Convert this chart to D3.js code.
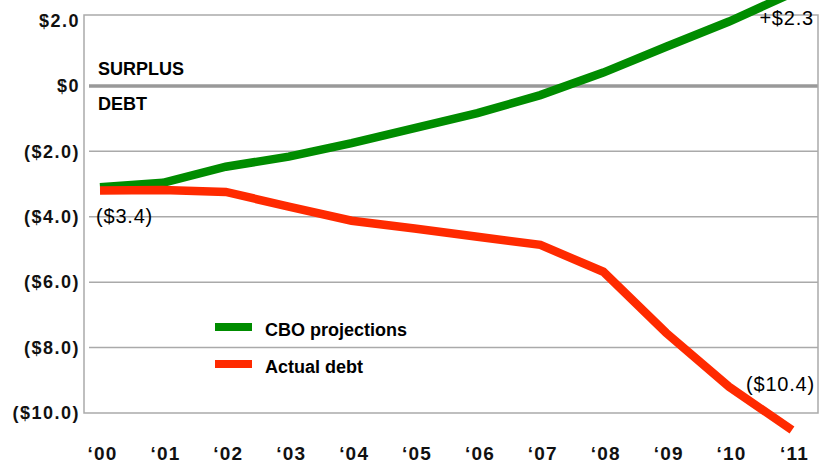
<!DOCTYPE html>
<html>
<head>
<meta charset="utf-8">
<script src="https://d3js.org/d3.v7.min.js"></script>
<style>
  body { margin: 0; background: #fff; }
  svg { font-family: "Liberation Sans", Arial, sans-serif; }
  .tick text { fill: #111; }
</style>
</head>
<body>
<script>

// Budget balance, trillions of dollars
var years = [2000, 2001, 2002, 2003, 2004, 2005, 2006, 2007, 2008, 2009, 2010, 2011];
var yearLabels = ["‘00", "‘01", "‘02", "‘03", "‘04", "‘05", "‘06", "‘07", "‘08", "‘09", "‘10", "‘11"];
var cboProjections = [-3.1, -2.96, -2.47, -2.16, -1.75, -1.29, -0.83, -0.28, 0.41, 1.2, 1.97, 2.84];
var actualDebt = [-3.2, -3.18, -3.24, -3.69, -4.12, -4.36, -4.61, -4.86, -5.68, -7.55, -9.2, -10.52];
var yTicks = [2, 0, -2, -4, -6, -8, -10];
var yTickLabels = ["$2.0", "$0", "($2.0)", "($4.0)", "($6.0)", "($8.0)", "($10.0)"];
var seriesNames = ["CBO projections", "Actual debt"];
var seriesColors = ["#008c00", "#ff2a00"];
var endLabels = ["+$2.3", "($3.4)", "($10.4)"];

var width = 828, height = 468;
var plot = {left: 84, right: 818, top: 15, bottom: 413};

var svg = d3.select("body")
            .append("svg")
            .attr("width", width)
            .attr("height", height);

var x = d3.scaleLinear().domain([2000, 2011]).range([100, 792]);
var y = d3.scaleLinear().domain([-10, 2.17]).range([plot.bottom, plot.top]);

// gridlines (not at the top value, the border takes that)
svg.append("g")
   .selectAll("line")
   .data(yTicks.filter(function(d) { return d < 2 && d > -10; }))
   .enter().append("line")
   .attr("x1", 89)
   .attr("x2", plot.right)
   .attr("y1", function(d) { return y(d); })
   .attr("y2", function(d) { return y(d); })
   .attr("stroke", function(d) { return d == 0 ? "#999" : "#aaa"; })
   .attr("stroke-width", function(d) { return d == 0 ? 3.5 : 1.5; });

// plot border
svg.append("rect")
   .attr("x", plot.left)
   .attr("y", plot.top)
   .attr("width", plot.right - plot.left)
   .attr("height", plot.bottom - plot.top)
   .attr("fill", "none")
   .attr("stroke", "#aaa")
   .attr("stroke-width", 1.5);

// y axis
var yAxis = svg.append("g")
   .attr("transform", "translate(" + plot.left + ",0)")
   .call(d3.axisLeft(y)
           .tickValues(yTicks)
           .tickSize(0)
           .tickPadding(4)
           .tickFormat(function(d, i) { return yTickLabels[i]; }));
yAxis.select(".domain").remove();
yAxis.selectAll("text")
     .style("font-size", "18px")
     .style("font-weight", "bold")
     .style("letter-spacing", "1.5px");

// x axis
var xAxis = svg.append("g")
   .attr("transform", "translate(2," + plot.bottom + ")")
   .call(d3.axisBottom(x)
           .tickValues(years)
           .tickSize(0)
           .tickPadding(34)
           .tickFormat(function(d, i) { return yearLabels[i]; }));
xAxis.select(".domain").remove();
xAxis.selectAll("text")
     .style("font-size", "19px")
     .style("font-weight", "bold")
     .style("letter-spacing", "1.2px");

// SURPLUS / DEBT labels
svg.append("text")
   .attr("x", 98).attr("y", 75)
   .style("font-size", "18px").style("font-weight", "bold")
   .text("SURPLUS");
svg.append("text")
   .attr("x", 98).attr("y", 110)
   .style("font-size", "18px").style("font-weight", "bold")
   .text("DEBT");

// the two lines
var valueline = d3.line()
                  .x(function(d, i) { return x(years[i]); })
                  .y(function(d) { return y(d); });

svg.append("path")
   .datum(cboProjections)
   .attr("d", valueline)
   .attr("fill", "none")
   .attr("stroke", seriesColors[0])
   .attr("stroke-width", 8.5);

svg.append("path")
   .datum(actualDebt)
   .attr("d", valueline)
   .attr("fill", "none")
   .attr("stroke", seriesColors[1])
   .attr("stroke-width", 8.5);

// value labels
svg.append("text")
   .attr("x", 814).attr("y", 25)
   .style("text-anchor", "end")
   .style("font-size", "20px").style("letter-spacing", "0.8px")
   .text(endLabels[0]);
svg.append("text")
   .attr("x", 96).attr("y", 223)
   .style("font-size", "20px").style("letter-spacing", "0.8px")
   .text(endLabels[1]);
svg.append("text")
   .attr("x", 815).attr("y", 391)
   .style("text-anchor", "end")
   .style("font-size", "20px").style("letter-spacing", "0.8px")
   .text(endLabels[2]);

// legend
var legend = svg.selectAll("g.legend")
                .data(seriesNames)
                .enter().append("g")
                .attr("class", "legend")
                .attr("transform", function(d, i) { return "translate(215," + (327 + i * 37) + ")"; });

legend.append("rect")
      .attr("x", 0)
      .attr("y", -4)
      .attr("width", 37)
      .attr("height", 8)
      .style("fill", function(d, i) { return seriesColors[i]; });

legend.append("text")
      .attr("x", 50)
      .attr("y", 9)
      .style("font-size", "18px")
      .style("font-weight", "bold")
      .text(function(d) { return d; });

</script>
</body>
</html>
